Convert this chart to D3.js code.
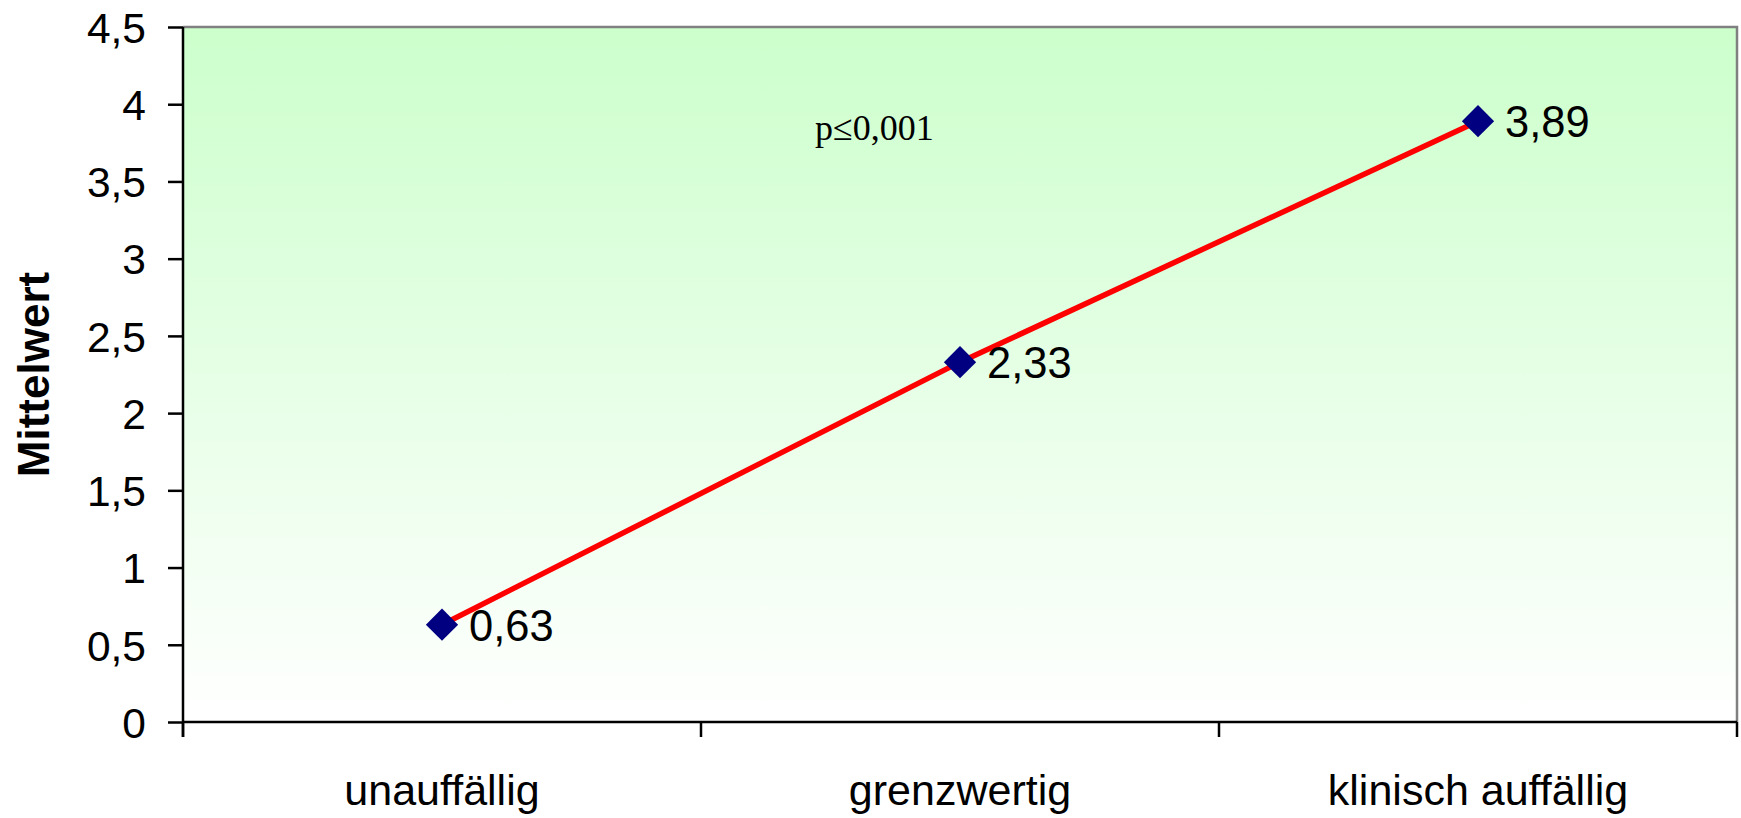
<!DOCTYPE html>
<html>
<head>
<meta charset="utf-8">
<script src="https://cdn.jsdelivr.net/npm/d3@7"></script>
<style>
  html, body { margin: 0; padding: 0; background: #fff; }
  svg { display: block; }
</style>
</head>
<body>
<svg id="chart" width="1741" height="818"></svg>
<script>
const categories = ["unauffällig", "grenzwertig", "klinisch auffällig"];
const values = [0.63, 2.33, 3.89];
const valueLabels = ["0,63", "2,33", "3,89"];
const yTicks = [0, 0.5, 1, 1.5, 2, 2.5, 3, 3.5, 4, 4.5];
const yTitle = "Mittelwert";
const note = "p\u22640,001";

const W = 1741, H = 818;
const m = { left: 183, right: 4, top: 27, bottom: 96 };
const svg = d3.select("#chart");

const x = d3.scaleBand().domain(categories).range([m.left, W - m.right]).paddingInner(0).paddingOuter(0);
const y = d3.scaleLinear().domain([0, 4.5]).range([H - m.bottom, m.top]);

const loc = d3.formatLocale({ decimal: ",", thousands: ".", grouping: [3], currency: ["", "€"] });
const fmt = d => loc.format("~g")(d);

// gradient background
const defs = svg.append("defs");
const grad = defs.append("linearGradient").attr("id", "bg").attr("x1", 0).attr("y1", 0).attr("x2", 0).attr("y2", 1);
grad.append("stop").attr("offset", "0%").attr("stop-color", "#ccffcc");
grad.append("stop").attr("offset", "100%").attr("stop-color", "#ffffff");

const x0 = x.range()[0], x1 = x.range()[1];
svg.append("rect").attr("x", x0).attr("y", y(4.5)).attr("width", x1 - x0).attr("height", y(0) - y(4.5)).attr("fill", "url(#bg)");

// top & right border (grey)
svg.append("path")
  .attr("d", `M${x0},${y(4.5)}H${x1}V${y(0)}`)
  .attr("fill", "none").attr("stroke", "#808080").attr("stroke-width", 2.5);

// y axis
const yAxis = d3.axisLeft(y).tickValues(yTicks).tickFormat(fmt).tickSize(15).tickPadding(22);
const gy = svg.append("g").attr("transform", `translate(${x0},0)`).call(yAxis);
gy.select(".domain").attr("stroke", "#000").attr("stroke-width", 2.5).attr("d", `M0,${y(4.5)}V${y(0) + 15}`);
gy.selectAll(".tick line").attr("stroke", "#000").attr("stroke-width", 2.5);
gy.selectAll(".tick text").attr("font-family", "Liberation Sans, Arial, sans-serif").attr("font-size", 42.5).attr("fill", "#000").attr("dy", "0.36em");

// x axis
const bounds = categories.map(c => x(c)).concat([x(categories[categories.length - 1]) + x.bandwidth()]);
const gx = svg.append("g");
gx.append("line").attr("x1", x0).attr("x2", x1).attr("y1", y(0)).attr("y2", y(0)).attr("stroke", "#000").attr("stroke-width", 2.5);
gx.selectAll("line.tk").data(bounds).join("line").attr("class", "tk")
  .attr("x1", d => d).attr("x2", d => d).attr("y1", y(0)).attr("y2", y(0) + 15)
  .attr("stroke", "#000").attr("stroke-width", 2.5);
gx.selectAll("text").data(categories).join("text")
  .attr("x", d => x(d) + x.bandwidth() / 2).attr("y", 805)
  .attr("text-anchor", "middle")
  .attr("font-family", "Liberation Sans, Arial, sans-serif").attr("font-size", 43)
  .attr("fill", "#000").text(d => d);

// y title
svg.append("text")
  .attr("transform", `translate(49,${(y(0) + y(4.5)) / 2}) rotate(-90)`)
  .attr("text-anchor", "middle")
  .attr("font-family", "Liberation Sans, Arial, sans-serif").attr("font-weight", "bold").attr("font-size", 44)
  .attr("fill", "#000").text(yTitle);

// line
const cx = d => x(d) + x.bandwidth() / 2;
const line = d3.line().x((d, i) => cx(categories[i])).y(d => y(d));
svg.append("path").datum(values).attr("d", line).attr("fill", "none").attr("stroke", "#ff0000").attr("stroke-width", 5.5);

// markers
const sym = d3.symbol().type(d3.symbolSquare).size(520);
svg.selectAll("path.mk").data(values).join("path").attr("class", "mk")
  .attr("d", sym)
  .attr("transform", (d, i) => `translate(${cx(categories[i])},${y(d)}) rotate(45)`)
  .attr("fill", "#000080");

// value labels
svg.selectAll("text.vl").data(values).join("text").attr("class", "vl")
  .attr("x", (d, i) => cx(categories[i]) + 27)
  .attr("y", d => y(d) + 16)
  .attr("font-family", "Liberation Sans, Arial, sans-serif").attr("font-size", 43.5)
  .attr("fill", "#000").text((d, i) => valueLabels[i]);

// note
svg.append("text").attr("x", 815).attr("y", 140)
  .attr("font-family", "Liberation Serif, Times New Roman, serif").attr("font-size", 36)
  .attr("fill", "#000").text(note);
</script>
</body>
</html>
